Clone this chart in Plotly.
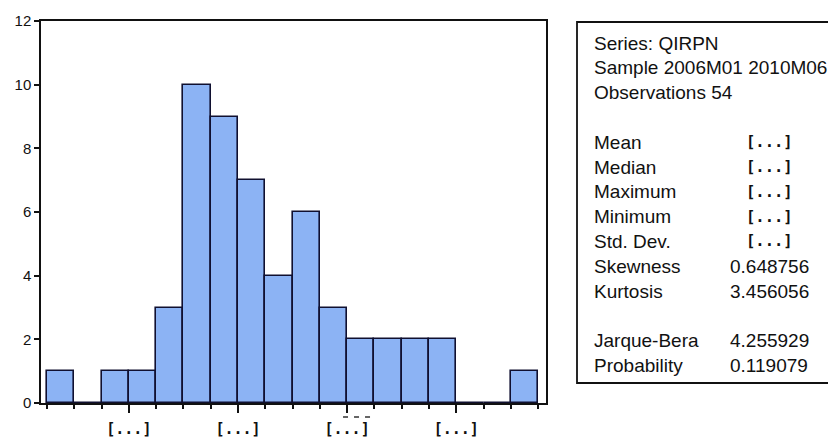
import plotly.graph_objects as go

# histogram of QIRPN, 18 equal bins
bin_index = list(range(18))
bin_counts = [1, 0, 1, 1, 3, 10, 9, 7, 4, 6, 3, 2, 2, 2, 2, 0, 0, 1]
bin_edges = [i - 0.5 for i in range(len(bin_index) + 1)]

# labelled bin edges (values are hidden in the source)
x_tick_pos = [2.5, 6.5, 10.5, 14.5]
x_tick_text = ["[...]", "[...]", "[...]", "[...]"]

# descriptive statistics panel
stats_header = ["Series: QIRPN", "Sample 2006M01 2010M06", "Observations 54"]
stats_labels = ["Mean", "Median", "Maximum", "Minimum", "Std. Dev.",
                "Skewness", "Kurtosis", "Jarque-Bera", "Probability"]
stats_values = ["[...]", "[...]", "[...]", "[...]", "[...]",
                "0.648756", "3.456056", "4.255929", "0.119079"]
stats_rows = [4, 5, 6, 7, 8, 9, 10, 12, 13]

# page body keeps its default 8px margin, so work in window pixels and shift
OFF = 8
W, H = 836 - OFF, 438 - OFF
L, R, T, B = 41 - OFF, 546 - OFF, 21 - OFF, 403 - OFF


def px(x):
    return (x - OFF - L) / (R - L)


def py(y):
    return (B - (y - OFF)) / (B - T)


fig = go.Figure()

fig.add_trace(
    go.Bar(
        x=bin_index,
        y=bin_counts,
        width=1,
        marker=dict(color="#8CB3F4", line=dict(color="#101030", width=1.6)),
        hoverinfo="y",
    )
)

text_font = dict(family="Liberation Sans, Arial, sans-serif", size=19, color="#111111")
mono_font = dict(family="DejaVu Sans Mono, monospace", size=15.5, color="#111111", weight="bold")

annotations = []
line_h = 24.8
top = 43
for i, s in enumerate(stats_header):
    annotations.append(dict(
        x=px(592), y=py(top + i * line_h), xref="paper", yref="paper",
        text=s, showarrow=False, xanchor="left", yanchor="middle", font=text_font,
    ))
for lab, val, row in zip(stats_labels, stats_values, stats_rows):
    annotations.append(dict(
        x=px(592), y=py(top + row * line_h), xref="paper", yref="paper",
        text=lab, showarrow=False, xanchor="left", yanchor="middle", font=text_font,
    ))
    annotations.append(dict(
        x=px(769), y=py(top + row * line_h), xref="paper", yref="paper",
        text=val, showarrow=False, xanchor="center", yanchor="middle",
        font=mono_font if val.startswith("[") else text_font,
    ))

fig.update_layout(
    width=W,
    height=H,
    margin={"l": L, "r": W - R, "t": T, "b": H - B, "autoexpand": False},
    paper_bgcolor="white",
    plot_bgcolor="white",
    bargap=0,
    showlegend=False,
    annotations=annotations,
    shapes=[
        dict(type="rect", xref="paper", yref="paper",
             x0=px(577), x1=px(850), y0=py(383), y1=py(22),
             line=dict(color="#111111", width=1.8), fillcolor="rgba(0,0,0,0)"),
        dict(type="line", xref="x", yref="paper",
             x0=x_tick_pos[2] - 0.15, x1=x_tick_pos[2] + 0.84,
             y0=py(417), y1=py(417),
             line=dict(color="#333333", width=1.5, dash="5px,6px")),
    ],
)

fig.update_xaxes(
    range=[-0.72, 17.79],
    tickmode="array",
    tickvals=x_tick_pos,
    ticktext=x_tick_text,
    ticks="outside",
    ticklen=8,
    tickwidth=1.5,
    tickcolor="#111111",
    ticklabelstandoff=3,
    tickfont=dict(family="DejaVu Sans Mono, monospace", size=15, color="#111111", weight="bold"),
    minor=dict(ticks="outside", ticklen=4, tickwidth=1.5, tickcolor="#111111",
               tickmode="array", tickvals=bin_edges),
    showline=True,
    linecolor="#111111",
    linewidth=1.5,
    mirror=True,
    showgrid=False,
    zeroline=False,
    automargin=False,
    fixedrange=True,
)

fig.update_yaxes(
    range=[0, 12],
    tickmode="linear",
    tick0=0,
    dtick=2,
    ticks="outside",
    ticklen=5,
    tickwidth=1.5,
    tickcolor="#111111",
    tickfont=dict(family="Liberation Sans, Arial, sans-serif", size=15, color="#111111"),
    showline=True,
    linecolor="#111111",
    linewidth=1.5,
    mirror=True,
    showgrid=False,
    zeroline=False,
    automargin=False,
    fixedrange=True,
)

fig.write_html("out.html", config={"displayModeBar": False})
